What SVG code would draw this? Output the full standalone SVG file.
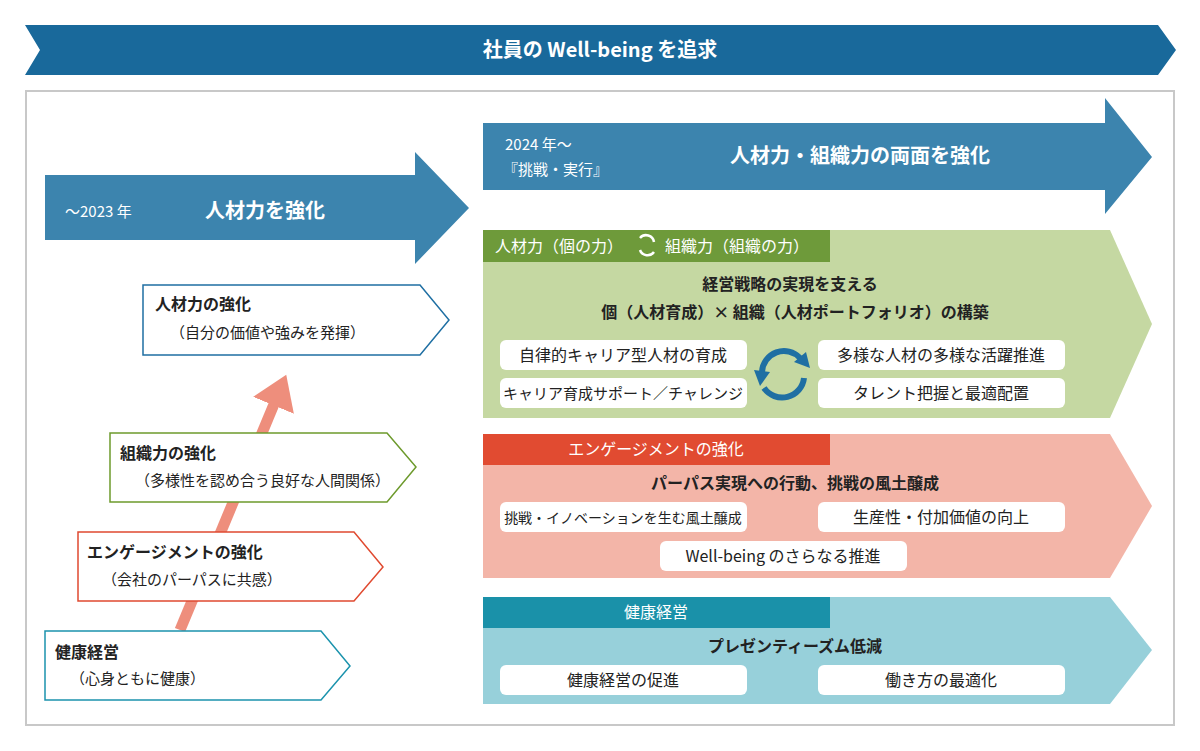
<svg xmlns="http://www.w3.org/2000/svg" width="1200" height="751" viewBox="0 0 1200 751">
<style>
text{font-family:"Noto Sans CJK JP","Noto Sans",sans-serif;fill:#222}
.w{fill:#fff}
.b{font-weight:bold}
.pill{fill:#fff}
.pt{font-size:15px;text-anchor:middle}
</style>
<defs>
<marker id="ah" markerWidth="4" markerHeight="4" refX="2" refY="2" orient="auto" markerUnits="strokeWidth"><path d="M0,0L3,2L0,4z" fill="#ee8e7c"/></marker>
</defs>
<rect width="1200" height="751" fill="#fff"/>
<g id="banner"><polygon points="25,25 1158,25 1176,50 1158,75 25,75 40,50" fill="#19699b"/><text x="600" y="57" class="w b" font-size="20" text-anchor="middle" style="fill:#fff">社員の Well-being を追求</text></g>
<rect x="26" y="91" width="1148" height="634" fill="none" stroke="#c8c8c8" stroke-width="2"/>
<g id="a2023"><polygon points="45,175 415,175 415,152 469,208 415,264 415,240 45,240" fill="#3c84ae"/><text x="65" y="217" font-size="15" style="fill:#fff">〜2023 年</text><text x="205" y="218" font-size="20" class="b" style="fill:#fff">人材力を強化</text></g>
<g id="a2024"><polygon points="483,123 1105,123 1105,98 1152,157 1105,214 1105,190 483,190" fill="#3c84ae"/><text x="505" y="150" font-size="15" style="fill:#fff">2024 年〜</text><text x="503" y="175" font-size="15" style="fill:#fff">『挑戦・実行』</text><text x="860" y="163" font-size="20" class="b" text-anchor="middle" style="fill:#fff">人材力・組織力の両面を強化</text></g>
<g id="connectors"><line x1="180" y1="630" x2="282" y2="385" stroke="#ee8e7c" stroke-width="11" marker-end="url(#ah)"/></g>
<g id="n1"><polygon points="143,285 420,285 449,320 420,355 143,355" fill="#fff" stroke="#1f6fa3" stroke-width="1.5"/><text x="155" y="310" font-size="16" class="b">人材力の強化</text><text x="170" y="338" font-size="15">（自分の価値や強みを発揮）</text></g>
<g id="n2"><polygon points="110,433 387,433 416,467 387,502 110,502" fill="#fff" stroke="#6d9a2c" stroke-width="1.5"/><text x="120" y="459" font-size="16" class="b">組織力の強化</text><text x="135" y="486" font-size="15">（多様性を認め合う良好な人間関係）</text></g>
<g id="n3"><polygon points="78,532 354,532 383,567 354,601 78,601" fill="#fff" stroke="#e04a30" stroke-width="1.5"/><text x="87" y="558" font-size="16" class="b">エンゲージメントの強化</text><text x="102" y="585" font-size="15">（会社のパーパスに共感）</text></g>
<g id="n4"><polygon points="45,631 321,631 350,666 321,700 45,700" fill="#fff" stroke="#1b93ad" stroke-width="1.5"/><text x="55" y="658" font-size="16" class="b">健康経営</text><text x="70" y="684" font-size="15">（心身ともに健康）</text></g>
<g id="green"><polygon points="483,230 1110,230 1152,324 1110,418 483,418" fill="#c5d8a2"/><rect x="483" y="230" width="347" height="32" fill="#6e9a3a"/>
<text x="495" y="252" font-size="16" style="fill:#fff">人材力（個の力）</text>
<g fill="none" stroke="#fff" stroke-width="2.5"><path d="M640,238 A8,8 0 0 1 654,242"/><path d="M654,252 A8,8 0 0 1 640,250"/></g>
<text x="665" y="252" font-size="16" style="fill:#fff">組織力（組織の力）</text>
<text x="790" y="290" font-size="16" class="b" text-anchor="middle">経営戦略の実現を支える</text>
<text x="795" y="318" font-size="16" class="b" text-anchor="middle">個（人材育成）× 組織（人材ポートフォリオ）の構築</text>
<rect class="pill" x="500" y="340" width="247" height="30" rx="6"/><text class="pt" x="623" y="361" style="font-size:16px">自律的キャリア型人材の育成</text>
<rect class="pill" x="500" y="378" width="247" height="30" rx="6"/><text class="pt" x="623" y="399">キャリア育成サポート／チャレンジ</text>
<rect class="pill" x="818" y="340" width="247" height="30" rx="6"/><text class="pt" x="941" y="361" style="font-size:16px">多様な人材の多様な活躍推進</text>
<rect class="pill" x="818" y="378" width="247" height="30" rx="6"/><text class="pt" x="941" y="399" style="font-size:16px">タレント把握と最適配置</text>
<g fill="none" stroke="#1f6fa3" stroke-width="6"><path d="M800,358 A22,22 0 0 0 762,372"/><path d="M764,388 A22,22 0 0 0 804,378"/></g>
<polygon points="806,352 810,368 794,362" fill="#1f6fa3"/><polygon points="754,370 770,372 760,386" fill="#1f6fa3"/>
</g>
<g id="pink"><polygon points="483,434 1110,434 1152,506 1110,578 483,578" fill="#f3b5a8"/><rect x="483" y="434" width="347" height="31" fill="#e14b31"/>
<text x="656" y="455" font-size="16" text-anchor="middle" style="fill:#fff">エンゲージメントの強化</text>
<text x="795" y="489" font-size="16" class="b" text-anchor="middle">パーパス実現への行動、挑戦の風土醸成</text>
<rect class="pill" x="500" y="502" width="247" height="30" rx="6"/><text class="pt" x="623" y="523" style="font-size:14px">挑戦・イノベーションを生む風土醸成</text>
<rect class="pill" x="818" y="502" width="247" height="30" rx="6"/><text class="pt" x="941" y="523" style="font-size:16px">生産性・付加価値の向上</text>
<rect class="pill" x="660" y="541" width="247" height="30" rx="6"/><text class="pt" x="783" y="562" style="font-size:16px">Well-being のさらなる推進</text>
</g>
<g id="teal"><polygon points="483,597 1110,597 1152,650 1110,704 483,704" fill="#97d0da"/><rect x="483" y="597" width="347" height="31" fill="#1a91a9"/>
<text x="656" y="618" font-size="16" text-anchor="middle" style="fill:#fff">健康経営</text>
<text x="795" y="652" font-size="16" class="b" text-anchor="middle">プレゼンティーズム低減</text>
<rect class="pill" x="500" y="665" width="247" height="30" rx="6"/><text class="pt" x="623" y="686" style="font-size:16px">健康経営の促進</text>
<rect class="pill" x="818" y="665" width="247" height="30" rx="6"/><text class="pt" x="941" y="686" style="font-size:16px">働き方の最適化</text>
</g>
</svg>
